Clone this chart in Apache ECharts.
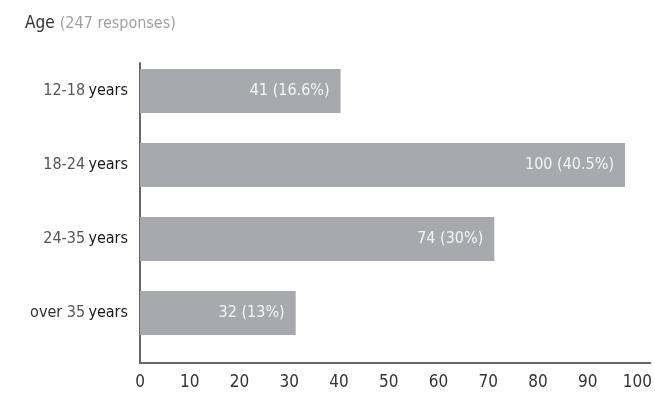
<!DOCTYPE html>
<html>
<head>
<meta charset="utf-8">
<script src="https://cdn.jsdelivr.net/npm/echarts@6/dist/echarts.min.js"></script>
<style>
  html, body { margin: 0; padding: 0; background: #fff; }
  #chart { width: 655px; height: 397px; }
</style>
</head>
<body>
<div id="chart"></div>
<script>
// data
const prefixes = ['', '', '', 'over '];
const ranges = ['12-18', '18-24', '24-35', '35'];
const counts = [41, 100, 74, 32];
const percents = ['16.6%', '40.5%', '30%', '13%'];
// bar lengths as drawn (they sit a little short of the printed counts)
const barLengths = [40.2, 97.2, 71, 31.2];
const xTicks = [0, 10, 20, 30, 40, 50, 60, 70, 80, 90, 100];

const FONT = '"DejaVu Sans Condensed", "Liberation Sans Narrow", sans-serif';
const X_MAX = 102.6;

const categories = ranges.map((r, i) => prefixes[i] + r);

const chart = echarts.init(document.getElementById('chart'));

chart.setOption({
    animation: false,
    title: {
        text: '{a|Age} {b|(247 responses)}',
        left: 20,
        top: 10,
        textStyle: {
            fontFamily: FONT,
            fontWeight: 'normal',
            rich: {
                a: { fontFamily: FONT, fontSize: 17, color: '#333' },
                b: { fontFamily: FONT, fontSize: 16, color: '#a0a0a0' }
            }
        }
    },
    grid: [
        // bars
        { left: 140, right: 3, top: 54, height: 296 },
        // axis lines + tick labels
        { left: 140, right: 3, top: 63, height: 300 }
    ],
    xAxis: [
        { gridIndex: 0, type: 'value', min: 0, max: X_MAX, show: false },
        {
            gridIndex: 1,
            type: 'value',
            min: 0,
            max: X_MAX,
            interval: 10,
            axisLine: { show: true, onZero: false, lineStyle: { color: '#666', width: 2 } },
            axisTick: { show: false },
            splitLine: { show: false },
            axisLabel: {
                showMaxLabel: false,
                margin: 11,
                fontFamily: FONT,
                fontSize: 17,
                color: '#333',
                formatter: v => (xTicks.includes(v) ? String(v) : '')
            }
        }
    ],
    yAxis: [
        {
            gridIndex: 0,
            type: 'category',
            inverse: true,
            data: categories,
            axisLine: { show: false },
            axisTick: { show: false },
            axisLabel: {
                margin: 12,
                formatter: (v, i) => {
                    const pre = prefixes[i] ? '{p|' + prefixes[i] + '}' : '';
                    return pre + '{n|' + ranges[i] + '} {y|years}';
                },
                rich: {
                    p: { fontFamily: FONT, fontSize: 16, color: '#333' },
                    n: { fontFamily: FONT, fontSize: 16, color: '#555' },
                    y: { fontFamily: FONT, fontSize: 16, color: '#1a1a1a' }
                }
            }
        },
        {
            gridIndex: 1,
            type: 'value',
            axisLine: { show: true, onZero: false, lineStyle: { color: '#666', width: 2 } },
            axisTick: { show: false },
            axisLabel: { show: false },
            splitLine: { show: false }
        }
    ],
    series: [
        {
            type: 'bar',
            xAxisIndex: 0,
            yAxisIndex: 0,
            data: barLengths,
            barWidth: 44,
            itemStyle: { color: '#a8a9ad' },
            label: {
                show: true,
                position: 'insideRight',
                distance: 11,
                fontFamily: FONT,
                fontSize: 16,
                color: '#f4f4f4',
                formatter: p => counts[p.dataIndex] + ' (' + percents[p.dataIndex] + ')'
            }
        }
    ]
});
</script>
</body>
</html>
